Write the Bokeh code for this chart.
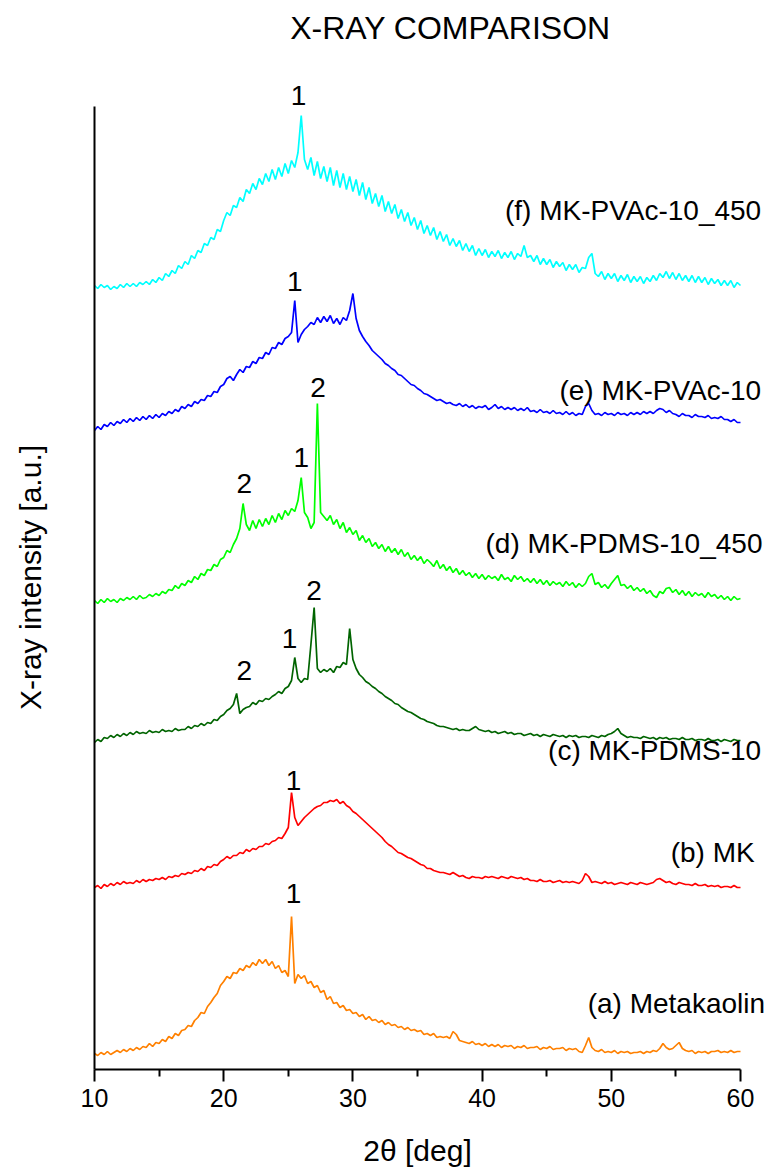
from bokeh.plotting import figure
from bokeh.models import Range1d, FixedTicker, Label, LabelSet, ColumnDataSource, LinearAxis
from bokeh.core.properties import value
from bokeh.embed import file_html
from bokeh.resources import INLINE

FONT = "Liberation Sans"

# ---------------- data (2theta grid 10..60 step 0.25 deg) ----------------
metakaolin = [
    16,14,17,15, 18,15,17,19, 17,20,18,21, 19,22,20,23, 22,26,23,27,
    26,30,28,33, 31,36,34,39, 40,44,43,49, 52,57,56,63, 67,72,76,84,
    88,93,91,97, 96,101,99,104, 102,107,104,110, 106,110,104,108, 101,104,97,99,
    93,153,86,95, 91,94,86,88, 82,84,77,79, 70,73,66,67, 62,64,59,60,
    56,57,53,55, 50,53,49,50, 47,49,45,47, 44,45,42,43, 40,42,39,40,
    38,39,35,36, 34,36,32,33, 32,33,31,38, 35,29,28,27, 26,28,25,26,
    24,26,23,25, 23,25,22,24, 23,24,21,23, 22,24,21,22, 22,23,20,22,
    21,23,20,21, 21,22,19,21, 20,21,18,17, 24,32,22,19, 18,20,17,18,
    17,19,16,18, 17,18,16,17, 17,18,16,18, 17,19,18,21, 26,22,20,21,
    24,27,21,19, 18,19,16,18, 17,18,16,18, 18,19,17,18, 17,19,17,18,
    18]
mk = [
    12,14,11,15, 13,16,14,17, 15,18,16,17, 16,19,17,20, 18,20,19,21,
    20,22,20,23, 22,24,23,26, 25,27,26,29, 28,31,29,33, 32,35,34,38,
    40,43,41,44, 44,47,46,50, 48,51,50,53, 53,56,55,58, 59,62,61,66,
    72,107,82,74, 78,82,85,88, 91,93,94,97, 97,99,98,100, 96,98,94,92,
    88,86,83,80, 77,74,71,68, 65,62,58,55, 53,50,47,46, 44,42,41,39,
    37,35,34,31, 31,29,28,27, 27,26,25,27, 25,23,24,22, 21,23,22,22,
    21,23,22,23, 22,21,23,22, 21,23,22,21, 22,20,21,19, 19,18,20,18,
    18,19,17,18, 19,17,18,17, 18,17,16,19, 26,23,17,18, 17,16,18,16,
    17,15,16,17, 16,15,17,16, 15,17,16,15, 16,17,20,21, 19,17,18,16,
    15,17,16,15, 15,14,16,14, 14,15,13,14, 13,14,12,13, 13,12,14,12,
    12]
mk_pdms = [
    12,15,13,17, 16,19,17,20, 18,21,19,22, 20,23,21,22, 21,24,22,23,
    22,25,23,24, 23,26,24,25, 25,28,26,29, 28,31,29,32, 31,35,34,38,
    40,44,46,50, 61,41,45,47, 48,52,50,54, 53,56,55,58, 60,63,61,66,
    68,74,97,76, 72,76,75,110, 147,86,82,85, 83,86,82,88, 87,92,90,126,
    95,86,80,77, 73,71,68,66, 63,61,58,56, 54,51,50,47, 45,43,42,40,
    38,36,35,33, 32,31,29,28, 28,27,26,25, 26,24,25,24, 24,26,28,25,
    24,23,24,22, 23,21,22,23, 21,22,20,21, 21,19,20,21, 19,20,18,20,
    19,18,20,19, 18,19,17,19, 18,19,17,18, 18,17,19,18, 17,19,18,20,
    21,23,26,21, 19,17,18,17, 17,16,18,17, 16,17,15,17, 16,17,15,16,
    16,15,17,15, 15,16,14,15, 15,14,16,14, 14,15,13,15, 14,13,15,14,
    14]
mk_pdms_450 = [
    12,9,13,10, 14,11,13,10, 14,12,15,13, 16,13,17,14, 15,18,16,19,
    17,21,19,23, 22,27,24,29, 27,32,30,36, 33,39,37,43, 42,48,46,53,
    55,62,60,68, 74,84,109,88, 82,92,84,93, 86,94,88,97, 90,99,93,102,
    97,104,101,112, 135,100,95,84, 90,209,100,96, 92,97,88,93, 84,90,80,85,
    78,82,72,77, 70,74,66,70, 64,68,61,66, 60,64,58,63, 56,60,53,57,
    52,56,49,53, 50,46,52,44, 48,42,46,40, 44,38,42,37, 40,35,39,34,
    38,33,37,34, 36,32,38,33, 35,31,37,33, 36,31,34,30, 34,29,33,28,
    32,27,31,28, 30,26,31,27, 30,25,29,26, 29,36,39,28, 30,25,28,24,
    29,33,37,27, 28,24,27,22, 25,21,24,19, 22,17,15,21, 19,24,25,20,
    23,18,22,17, 21,16,20,17, 19,15,20,16, 18,14,17,13, 16,12,16,13,
    14]
mk_pvac = [
    12,16,13,18, 16,20,17,21, 19,23,20,24, 21,25,22,26, 23,27,24,28,
    25,29,27,31, 29,33,31,36, 34,38,36,41, 39,43,42,47, 46,51,50,56,
    58,64,66,62, 68,73,70,76, 75,81,79,85, 84,90,88,95, 94,100,98,104,
    106,110,142,100, 108,113,116,120, 118,125,120,126, 121,127,119,124, 118,125,122,132,
    149,124,112,106, 101,97,92,89, 86,83,79,77, 74,72,68,67, 64,61,58,57,
    54,52,49,48, 46,44,42,43, 41,39,40,38, 37,39,36,38, 35,37,34,36,
    35,37,33,35, 38,34,36,33, 35,33,35,32, 34,32,35,31, 32,30,33,30,
    31,29,32,29, 30,28,31,28, 30,27,29,28, 36,39,32,28, 29,27,30,28,
    29,27,30,28, 29,27,30,28, 30,28,31,29, 31,29,32,34, 33,30,32,29,
    28,26,29,27, 27,25,28,26, 26,25,27,24, 25,24,26,23, 23,21,23,20,
    20]
mk_pvac_450 = [
    12,9,13,10, 12,8,11,9, 13,10,14,11, 14,11,15,13, 16,13,18,15,
    20,17,24,21, 27,24,32,29, 36,33,42,39, 47,45,54,52, 60,58,68,66,
    77,85,82,92, 90,100,96,108, 104,114,108,119, 113,124,116,128, 118,130,121,134,
    124,137,130,145, 182,138,128,140, 122,136,119,131, 116,130,112,127, 110,124,108,121,
    106,118,102,115, 98,110,94,104, 91,102,86,96, 84,93,79,88, 76,85,72,80,
    68,77,64,72, 62,70,58,66, 56,63,52,59, 51,57,47,54, 46,52,42,49,
    42,48,40,46, 41,47,39,45, 40,46,38,44, 41,52,40,42, 36,42,33,39,
    33,38,30,36, 31,35,27,33, 28,33,25,30, 29,40,44,24, 21,26,18,24,
    19,24,16,22, 17,23,15,21, 16,21,14,20, 16,22,17,24, 20,26,19,25,
    18,24,17,22, 16,22,15,21, 15,20,13,19, 14,18,12,17, 12,17,10,15,
    12]

series = [metakaolin, mk, mk_pdms, mk_pdms_450, mk_pvac, mk_pvac_450]
names = ["(a) Metakaolin", "(b) MK", "(c) MK-PDMS-10", "(d) MK-PDMS-10_450",
         "(e) MK-PVAc-10", "(f) MK-PVAc-10_450"]
colors = ["#FF8000", "#FF0000", "#006400", "#00FF00", "#0000FF", "#00FFFF"]
offsets = [0, 170, 315, 457, 627, 772]
name_x = [61.9, 61.1, 61.6, 61.7, 61.6, 61.6]
name_y = [66, 217, 319, 526, 679, 859]

for s in series:
    assert len(s) == 201, len(s)
two_theta = [10 + 0.25 * i for i in range(201)]

# peak markers: 1 / 2
peak_x = [25.4, 25.4, 21.6, 25.1, 27.0, 21.6, 26.0, 27.3, 25.5, 25.8]
peak_y = [176, 289, 399, 431, 479, 586, 612, 682, 788, 974]
peak_t = ["1", "1", "2", "1", "2", "2", "1", "2", "1", "1"]

x_ticks = [10, 20, 30, 40, 50, 60]
x_minor = [15, 25, 35, 45, 55]

# ---------------- figure: frame covers the whole canvas, axes at fixed spots ----------------
PX_PER_DEG = 12.92
p = figure(width=773, height=1169, min_border=0,
           x_range=Range1d(10 - 94 / PX_PER_DEG, 10 + 679 / PX_PER_DEG),
           y_range=Range1d(-100, 1069),
           x_axis_location=None, y_axis_location=None,
           output_backend="svg", toolbar_location=None)
p.outline_line_color = None
p.grid.visible = False
p.background_fill_color = "white"
p.border_fill_color = "white"

for s, c, off in zip(series, colors, offsets):
    p.line(two_theta, [v + off for v in s], line_color=c, line_width=1.7)

ax = LinearAxis(fixed_location=0, bounds=(10, 60),
                ticker=FixedTicker(ticks=x_ticks, minor_ticks=x_minor))
ax.major_tick_in = 0
ax.major_tick_out = 12
ax.minor_tick_in = 0
ax.minor_tick_out = 7
ax.major_tick_line_width = 2
ax.minor_tick_line_width = 2
ax.axis_line_width = 2
ax.major_label_text_font = FONT
ax.major_label_text_font_size = "25px"
ax.major_label_text_color = "black"
ax.major_label_standoff = 7
p.add_layout(ax, "below")

ay = LinearAxis(fixed_location=10, bounds=(0, 963), ticker=FixedTicker(ticks=[]))
ay.major_tick_line_color = None
ay.minor_tick_line_color = None
ay.axis_line_width = 2
p.add_layout(ay, "left")

for nx, nm, ny in zip(name_x, names, name_y):
    p.add_layout(Label(x=nx, y=ny, text=nm, text_align="right", text_baseline="middle",
                       text_font=FONT, text_font_size="28px", text_color="black"))

src = ColumnDataSource(dict(x=peak_x, y=peak_y, t=peak_t))
p.add_layout(LabelSet(x="x", y="y", text="t", source=src, text_align="center",
                      text_baseline="middle", text_font=value(FONT),
                      text_font_size=value("28px"), text_color="black"))

p.add_layout(Label(x=37.55, y=1042, text="X-RAY COMPARISON", text_align="center",
                   text_baseline="middle", text_font=FONT, text_font_size="32px",
                   text_color="black"))
p.add_layout(Label(x=5.05, y=492, text="X-ray intensity [a.u.]", angle=1.5707963,
                   text_align="center", text_baseline="middle", text_font=FONT,
                   text_font_size="30px", text_color="black"))
p.add_layout(Label(x=35, y=-81, text="2θ [deg]", text_align="center",
                   text_baseline="middle", text_font=FONT, text_font_size="30px",
                   text_color="black"))

open("out.html", "w").write(file_html(p, INLINE))
